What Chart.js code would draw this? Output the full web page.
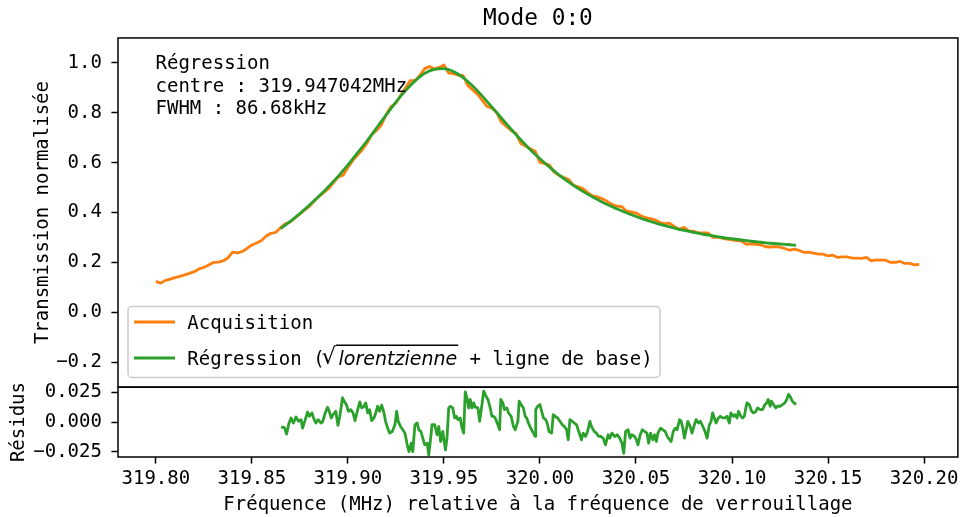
<!DOCTYPE html>
<html lang="fr">
<head>
<meta charset="UTF-8">
<title>Mode 0:0</title>
<style>
  html, body { margin: 0; padding: 0; background: #fff; }
  #chart { display: block; }
</style>
</head>
<body>
<canvas id="chart" width="963" height="517"></canvas>
<script src="https://cdn.jsdelivr.net/npm/chart.js"></script>
<script>
// acquisition, sampled every 2.5 kHz from 319.80 MHz
const acqStart = 319.80;
const acqStep = 0.0025;
const acqVal = [
  0.124, 0.117, 0.128, 0.133, 0.139, 0.144, 0.150, 0.156, 0.163, 0.174,
  0.180, 0.190, 0.200, 0.201, 0.206, 0.218, 0.241, 0.238, 0.244, 0.256,
  0.270, 0.278, 0.288, 0.306, 0.317, 0.321,
  0.340, 0.356, 0.362, 0.378, 0.395, 0.411, 0.425, 0.446, 0.465, 0.481,
  0.496, 0.520, 0.543, 0.550, 0.581, 0.608, 0.630, 0.652, 0.679, 0.713,
  0.730, 0.752, 0.794, 0.825, 0.839, 0.870, 0.899, 0.929, 0.930, 0.950,
  0.977, 0.986, 0.976, 0.982, 0.992, 0.959, 0.957, 0.951, 0.949, 0.909,
  0.892, 0.875, 0.850, 0.825, 0.818, 0.801, 0.762, 0.745, 0.729, 0.717,
  0.677, 0.667, 0.656, 0.646, 0.601, 0.596, 0.590, 0.561, 0.549, 0.540,
  0.532, 0.509, 0.503, 0.495, 0.479, 0.467, 0.463, 0.455, 0.445, 0.433,
  0.426, 0.424, 0.406, 0.403, 0.398, 0.387, 0.380, 0.376, 0.371, 0.360,
  0.356, 0.358, 0.344, 0.333, 0.341, 0.327, 0.325, 0.318, 0.318, 0.318,
  0.301, 0.301, 0.297, 0.294, 0.291, 0.288, 0.286, 0.273, 0.275, 0.273,
  0.271, 0.263, 0.262, 0.263, 0.261, 0.256, 0.249, 0.253,
  0.248, 0.240, 0.241, 0.237, 0.233, 0.233, 0.226, 0.229, 0.220, 0.222,
  0.222, 0.217, 0.217, 0.216, 0.220, 0.206, 0.210, 0.209, 0.209, 0.200,
  0.200, 0.204, 0.196, 0.196, 0.190, 0.192
];
const acqFreq = acqVal.map((_, i) => +(acqStart + i * acqStep).toFixed(4));

// fitted curve (sqrt lorentzian + baseline)
const fitFreq = [
  319.865, 319.870, 319.875, 319.880, 319.885, 319.890, 319.895, 319.900, 319.905, 319.910,
  319.915, 319.920, 319.925, 319.930, 319.935, 319.940, 319.945, 319.950, 319.955, 319.960,
  319.965, 319.970, 319.975, 319.980, 319.985, 319.990, 319.995, 320.000, 320.005, 320.010,
  320.015, 320.020, 320.025, 320.030, 320.035, 320.040, 320.045, 320.050, 320.055, 320.060,
  320.065, 320.070, 320.075, 320.080, 320.085, 320.090, 320.095, 320.100, 320.105, 320.110,
  320.115, 320.120, 320.125, 320.130, 320.1333
];
const fitVal = [
  0.336, 0.365, 0.396, 0.430, 0.466, 0.505, 0.546, 0.591, 0.639, 0.688,
  0.740, 0.792, 0.843, 0.889, 0.928, 0.958, 0.974, 0.977, 0.965, 0.941,
  0.907, 0.867, 0.823, 0.778, 0.734, 0.692, 0.652, 0.616, 0.582, 0.550,
  0.522, 0.496, 0.473, 0.452, 0.432, 0.415, 0.399, 0.384, 0.371, 0.359,
  0.348, 0.338, 0.329, 0.321, 0.313, 0.307, 0.300, 0.295, 0.290, 0.285,
  0.281, 0.277, 0.274, 0.271, 0.269
];

// residuals
const resFreq = [
  319.8652, 319.8669, 319.8681, 319.8692, 319.8704, 319.8716, 319.8730, 319.8743, 319.8756, 319.8764,
  319.8778, 319.8790, 319.8799, 319.8813, 319.8821, 319.8833, 319.8845, 319.8859, 319.8868, 319.8882,
  319.8894, 319.8903, 319.8913, 319.8923, 319.8937, 319.8948, 319.8958, 319.8972, 319.8980, 319.8992,
  319.9003, 319.9015, 319.9027, 319.9037, 319.9049, 319.9062, 319.9072, 319.9084, 319.9093, 319.9103,
  319.9113, 319.9124, 319.9136, 319.9145, 319.9155, 319.9165, 319.9176, 319.9188, 319.9196, 319.9207,
  319.9217, 319.9231, 319.9245, 319.9254, 319.9262, 319.9274, 319.9286, 319.9297, 319.9309, 319.9318,
  319.9330, 319.9338, 319.9349, 319.9361, 319.9369, 319.9380, 319.9390, 319.9400, 319.9413, 319.9421,
  319.9430, 319.9438, 319.9452, 319.9464, 319.9473, 319.9483, 319.9494, 319.9508, 319.9516, 319.9525,
  319.9534, 319.9546, 319.9556, 319.9565, 319.9573, 319.9585, 319.9594, 319.9603, 319.9611, 319.9620,
  319.9629, 319.9637, 319.9646, 319.9655, 319.9663, 319.9677, 319.9686, 319.9698, 319.9707, 319.9719,
  319.9729, 319.9741, 319.9750, 319.9758, 319.9767, 319.9781, 319.9790, 319.9796, 319.9807, 319.9815,
  319.9828, 319.9836, 319.9850, 319.9862, 319.9871, 319.9885, 319.9892, 319.9902, 319.9914, 319.9923,
  319.9931, 319.9940, 319.9952, 319.9966, 319.9975, 319.9978, 319.9988, 320.0000, 320.0009, 320.0018,
  320.0030, 320.0040, 320.0047, 320.0061, 320.0069, 320.0078, 320.0092, 320.0104, 320.0116, 320.0127,
  320.0139, 320.0147, 320.0156, 320.0168, 320.0178, 320.0191, 320.0199, 320.0208, 320.0216, 320.0225,
  320.0237, 320.0248, 320.0260, 320.0268, 320.0282, 320.0294, 320.0306, 320.0317, 320.0329, 320.0341,
  320.0355, 320.0363, 320.0375, 320.0389, 320.0403, 320.0415, 320.0427, 320.0436, 320.0446, 320.0459,
  320.0469, 320.0479, 320.0493, 320.0502, 320.0510, 320.0522, 320.0533, 320.0545, 320.0557, 320.0566,
  320.0576, 320.0588, 320.0597, 320.0606, 320.0614, 320.0628, 320.0640, 320.0652, 320.0663, 320.0675,
  320.0683, 320.0694, 320.0704, 320.0714, 320.0727, 320.0735, 320.0744, 320.0752, 320.0763, 320.0770,
  320.0782, 320.0792, 320.0804, 320.0813, 320.0825, 320.0835, 320.0844, 320.0856, 320.0865, 320.0870,
  320.0882, 320.0891, 320.0899, 320.0908, 320.0917, 320.0929, 320.0939, 320.0951, 320.0963, 320.0974,
  320.0986, 320.0994, 320.1008, 320.1017, 320.1026, 320.1034, 320.1046, 320.1055, 320.1064, 320.1072,
  320.1078, 320.1090, 320.1102, 320.1112, 320.1124, 320.1133, 320.1147, 320.1159, 320.1171, 320.1181,
  320.1188, 320.1199, 320.1205, 320.1216, 320.1228, 320.1237, 320.1250, 320.1263, 320.1275, 320.1285,
  320.1294, 320.1302, 320.1314, 320.1323, 320.1333
];
const resVal = [
  -0.0042, -0.0045, -0.0101, -0.0017, 0.0034, -0.0008, 0.0042, 0.0006, 0.0020, -0.0051,
  0.0020, 0.0084, 0.0048, 0.0076, 0.0034, -0.0008, 0.0020, -0.0008, 0.0000, 0.0076,
  0.0124, 0.0090, 0.0034, 0.0062, 0.0090, -0.0028, 0.0048, 0.0203, 0.0175, 0.0146,
  0.0090, 0.0104, 0.0076, 0.0011, 0.0090, 0.0169, 0.0118, 0.0132, 0.0160, 0.0076,
  0.0104, 0.0011, 0.0034, 0.0076, 0.0132, 0.0090, 0.0141, 0.0076, 0.0006, -0.0051,
  -0.0093, -0.0079, -0.0023, 0.0090, 0.0006, -0.0037, -0.0065, -0.0093, -0.0191, -0.0248,
  -0.0177, -0.0248, -0.0023, -0.0008, -0.0065, -0.0079, -0.0135, -0.0191, -0.0177, -0.0276,
  -0.0149, -0.0023, -0.0023, -0.0107, -0.0037, -0.0163, -0.0079, -0.0234, -0.0135, 0.0118,
  0.0132, 0.0118, 0.0034, 0.0048, 0.0020, 0.0034, -0.0051, -0.0093, 0.0253, 0.0203,
  0.0118, 0.0189, 0.0118, 0.0160, 0.0124, 0.0118, 0.0006, 0.0146, 0.0259, 0.0217,
  0.0189, 0.0118, 0.0048, 0.0048, 0.0034, -0.0023, -0.0065, 0.0189, 0.0160, 0.0104,
  0.0118, 0.0076, 0.0048, -0.0037, -0.0065, 0.0006, 0.0175, 0.0146, 0.0118, 0.0048,
  0.0034, -0.0008, -0.0051, -0.0093, -0.0121, 0.0104, 0.0132, 0.0146, 0.0090, 0.0034,
  0.0020, -0.0023, -0.0079, -0.0093, 0.0062, 0.0048, 0.0034, 0.0006, -0.0023, -0.0037,
  -0.0065, -0.0149, 0.0020, 0.0006, -0.0008, -0.0023, -0.0065, -0.0107, -0.0149, -0.0093,
  -0.0121, -0.0079, 0.0006, -0.0037, -0.0079, -0.0093, -0.0121, -0.0121, -0.0135, -0.0191,
  -0.0107, -0.0135, -0.0093, -0.0121, -0.0107, -0.0135, -0.0177, -0.0262, -0.0079, -0.0065,
  -0.0135, -0.0107, -0.0121, -0.0149, -0.0191, -0.0107, -0.0065, -0.0079, -0.0093, -0.0177,
  -0.0093, -0.0149, -0.0107, -0.0163, -0.0093, -0.0051, -0.0065, -0.0079, -0.0121, -0.0149,
  -0.0163, -0.0079, -0.0051, -0.0065, 0.0020, 0.0006, -0.0051, -0.0135, -0.0051, 0.0006,
  -0.0037, -0.0093, -0.0023, 0.0020, -0.0008, 0.0006, -0.0023, -0.0065, -0.0107, -0.0135,
  -0.0023, 0.0006, 0.0076, 0.0034, -0.0008, 0.0034, 0.0048, 0.0034, 0.0034, 0.0048,
  -0.0008, 0.0076, 0.0048, 0.0062, 0.0034, 0.0090, 0.0048, 0.0034, 0.0048, 0.0118,
  0.0160, 0.0146, 0.0090, 0.0076, 0.0090, 0.0118, 0.0104, 0.0104, 0.0146, 0.0160,
  0.0189, 0.0132, 0.0175, 0.0146, 0.0118, 0.0132, 0.0132, 0.0146, 0.0160, 0.0189,
  0.0231, 0.0217, 0.0175, 0.0160, 0.0146
];

// axes
const xRange = [319.7803, 320.2176];
const xTicks = [319.80, 319.85, 319.90, 319.95, 320.00, 320.05, 320.10, 320.15, 320.20];
const yRange = [-0.3, 1.1];
const yTicks = [-0.2, 0.0, 0.2, 0.4, 0.6, 0.8, 1.0];
const resRange = [-0.0293, 0.0292];
const resTicks = [-0.025, 0.0, 0.025];

const noteLines = ['Régression', 'centre : 319.947042MHz', 'FWHM : 86.68kHz'];
const legendLabels = ['Acquisition', 'Régression ('];

const MONO = '"DejaVu Sans Mono", monospace';
const ORANGE = '#ff7f0e';
const GREEN = '#2ca02c';
const tickFont = { family: MONO, size: 19 };

function fmt(v, d) {
  return (v < -1e-9 ? '\u2212' : '') + Math.abs(v).toFixed(d);
}

function pairs(xs, ys) {
  return xs.map((x, i) => ({ x: x, y: ys[i] }));
}

// left axes share one stack; higher weight is placed first (on top)
function yAxis(range, ticks, digits, title, stackWeight, order, titlePad) {
  return {
    type: 'linear',
    position: 'left',
    stack: 'panels',
    stackWeight: stackWeight,
    weight: order,
    min: range[0],
    max: range[1],
    afterBuildTicks: s => { s.ticks = ticks.map(v => ({ value: v })); },
    afterFit: s => { s.width = 118; },
    ticks: { font: tickFont, color: '#000', padding: 9.5, autoSkip: false,
             callback: v => fmt(v, digits) },
    grid: { display: true, drawOnChartArea: false, drawTicks: true,
            tickLength: 6.6, tickWidth: 1.5, tickColor: '#000' },
    border: { display: false },
    title: { display: true, text: title, font: tickFont, color: '#000',
             padding: { top: titlePad, bottom: 0 } }
  };
}

// panel frames, drawn over the lines like matplotlib spines
const framePlugin = {
  id: 'frames',
  afterDatasetsDraw(chart) {
    const ctx = chart.ctx, a = chart.chartArea;
    ctx.save();
    ctx.strokeStyle = '#000';
    ctx.lineWidth = 1.5;
    ['y', 'y2'].forEach(id => {
      const s = chart.scales[id];
      ctx.strokeRect(a.left, s.top, a.right - a.left, s.bottom - s.top);
    });
    ctx.restore();
  }
};

// fit parameters text + legend box inside the top panel
const overlayPlugin = {
  id: 'overlay',
  afterDraw(chart) {
    const ctx = chart.ctx, a = chart.chartArea;
    ctx.save();
    ctx.fillStyle = '#000';
    ctx.textBaseline = 'alphabetic';
    ctx.textAlign = 'left';
    ctx.font = '19px ' + MONO;
    noteLines.forEach((t, i) => ctx.fillText(t, a.left + 37.5, 69 + i * 22.6));

    // legend frame
    ctx.beginPath();
    ctx.roundRect(128, 306.5, 532, 71, 4);
    ctx.fillStyle = 'rgba(255,255,255,0.8)';
    ctx.fill();
    ctx.strokeStyle = '#cccccc';
    ctx.lineWidth = 1.5;
    ctx.stroke();

    const rows = [{ color: ORANGE, y: 322, base: 328.5 }, { color: GREEN, y: 358, base: 364.5 }];
    rows.forEach(r => {
      ctx.beginPath();
      ctx.moveTo(134, r.y);
      ctx.lineTo(175, r.y);
      ctx.strokeStyle = r.color;
      ctx.lineWidth = 2.8;
      ctx.stroke();
    });

    ctx.fillStyle = '#000';
    ctx.font = '19px ' + MONO;
    ctx.fillText(legendLabels[0], 187.3, rows[0].base);

    // second label: Régression (√lorentzienne + ligne de base)
    const b = rows[1].base;
    let x = 187.3;
    ctx.fillText(legendLabels[1], x, b);
    x += ctx.measureText(legendLabels[1]).width;

    ctx.font = '19px "DejaVu Sans"';
    let m = ctx.measureText('\u221A');
    const size = 19 * 20.5 / (m.actualBoundingBoxAscent + m.actualBoundingBoxDescent);
    ctx.font = size.toFixed(2) + 'px "DejaVu Sans"';
    m = ctx.measureText('\u221A');
    const rb = b - m.actualBoundingBoxDescent;
    ctx.fillText('\u221A', x - 3, rb);
    const topY = rb - m.actualBoundingBoxAscent;
    const rx = x - 3 + m.actualBoundingBoxRight;
    x = rx + 2;

    ctx.font = 'italic 19px "DejaVu Sans"';
    ctx.fillText('lorentzienne', x, b);
    const wl = ctx.measureText('lorentzienne').width;
    ctx.beginPath();
    ctx.moveTo(rx - 0.5, topY + 0.7);
    ctx.lineTo(x + wl + 1, topY + 0.7);
    ctx.strokeStyle = '#000';
    ctx.lineWidth = 1.4;
    ctx.stroke();
    x += wl + 1;

    ctx.font = '19px ' + MONO;
    ctx.fillText(' + ligne de base)', x, b);
    ctx.restore();
  }
};

new Chart(document.getElementById('chart'), {
  type: 'line',
  data: {
    datasets: [
      { label: 'Acquisition', data: pairs(acqFreq, acqVal), yAxisID: 'y',
        borderColor: ORANGE, borderWidth: 2.8, pointRadius: 0, borderJoinStyle: 'round', order: 2 },
      { label: 'Régression', data: pairs(fitFreq, fitVal), yAxisID: 'y',
        borderColor: GREEN, borderWidth: 2.8, pointRadius: 0, cubicInterpolationMode: 'monotone', order: 1 },
      { label: 'Résidus', data: pairs(resFreq, resVal), yAxisID: 'y2',
        borderColor: GREEN, borderWidth: 2.8, pointRadius: 0, borderJoinStyle: 'round', order: 1 }
    ]
  },
  options: {
    responsive: false,
    animation: false,
    devicePixelRatio: 1,
    layout: { padding: { left: 0, right: 1, top: 0, bottom: 0 } },
    plugins: {
      legend: { display: false },
      tooltip: { enabled: false },
      title: {
        display: true, text: 'Mode 0:0', fullSize: false, color: '#000',
        font: { family: MONO, size: 22.8, weight: 'normal', lineHeight: 1.2 },
        padding: { top: 5.4, bottom: 5.2 }
      }
    },
    scales: {
      x: {
        type: 'linear',
        position: 'bottom',
        min: xRange[0],
        max: xRange[1],
        afterBuildTicks: s => { s.ticks = xTicks.map(v => ({ value: v })); },
        afterFit: s => { s.height = 60; },
        ticks: { font: tickFont, color: '#000', padding: 4.4, autoSkip: false, maxRotation: 0,
                 callback: v => v.toFixed(2) },
        grid: { display: true, drawOnChartArea: false, drawTicks: true,
                tickLength: 6.6, tickWidth: 1.5, tickColor: '#000' },
        border: { display: false },
        title: { display: true, text: 'Fréquence (MHz) relative à la fréquence de verrouillage',
                 font: tickFont, color: '#000', padding: { top: 0, bottom: 0.5 } }
      },
      y: yAxis(yRange, yTicks, 1, 'Transmission normalisée', 5, 1, 32),
      y2: yAxis(resRange, resTicks, 3, 'Résidus', 1, 0, 8)
    }
  },
  plugins: [framePlugin, overlayPlugin]
});
</script>
</body>
</html>
